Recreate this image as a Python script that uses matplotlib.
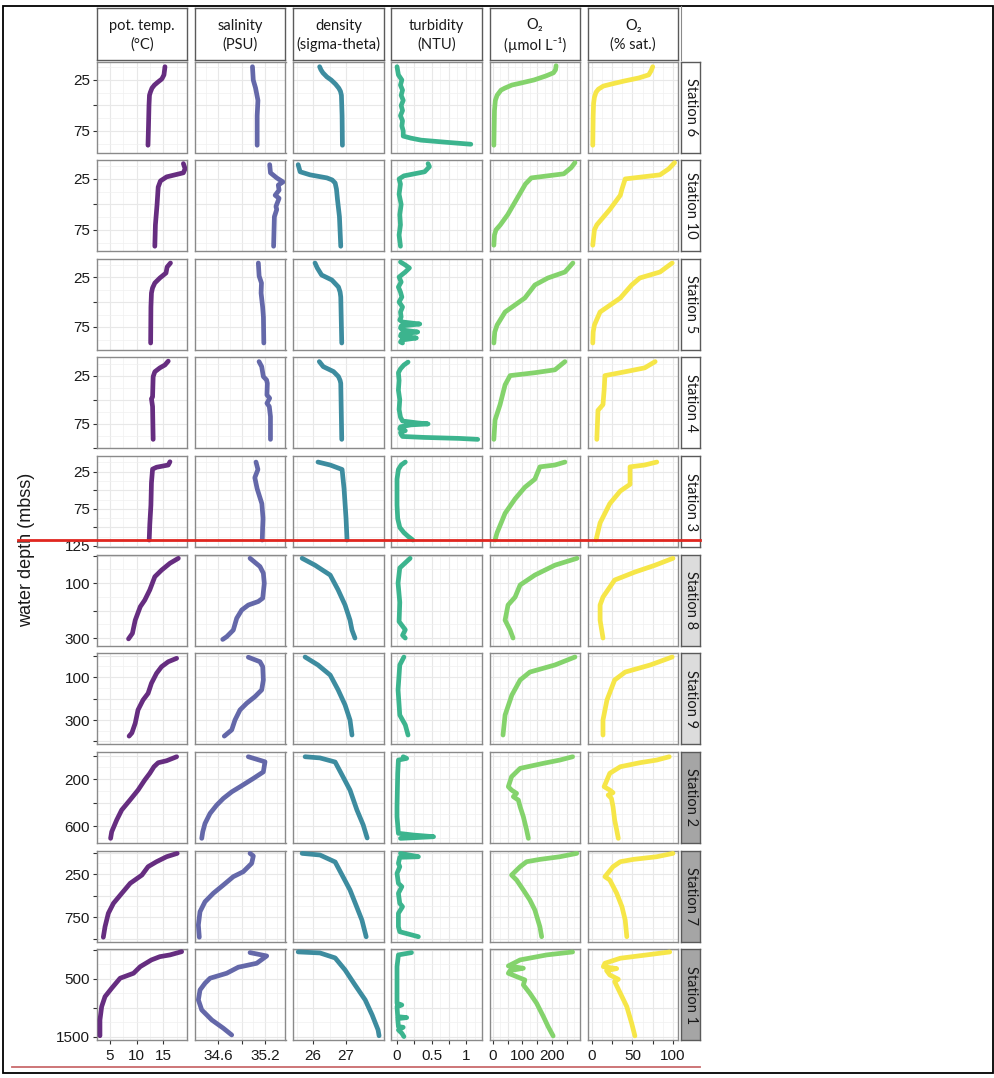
import matplotlib
matplotlib.use("Agg")
import matplotlib.pyplot as plt
from matplotlib.lines import Line2D
from matplotlib.patches import Rectangle

# ---- depth profiles (depth in mbss, value) ----
# Station 6
s6_temp_d = [12, 20, 24, 27, 30, 33, 37, 40, 50, 70, 89]
s6_temp = [15.28, 15.09, 14.7, 13.97, 13.3, 12.85, 12.55, 12.38, 12.29, 12.2, 12.1]
s6_sal_d = [12, 25, 33, 45, 60, 89]
s6_sal = [35.04, 35.05, 35.08, 35.11, 35.10, 35.10]
s6_dens_d = [12, 15, 18, 22, 25, 29, 33, 36, 40, 60, 89]
s6_dens = [26.2, 26.24, 26.3, 26.42, 26.55, 26.68, 26.78, 26.83, 26.86, 26.88, 26.89]
s6_turb_d = [12, 20, 25, 30, 35, 40, 45, 50, 55, 60, 65, 70, 75, 80, 82, 84, 86, 88]
s6_turb = [0.0, 0.02, 0.07, 0.05, 0.08, 0.06, 0.09, 0.06, 0.08, 0.05, 0.08, 0.07, 0.09, 0.09, 0.2, 0.35, 0.7, 1.07]
s6_o2_d = [11, 15, 18, 21, 25, 28, 30, 33, 35, 40, 45, 55, 89]
s6_o2 = [214, 212, 205, 180, 139, 95, 64, 40, 27, 14, 8, 5, 3]
s6_sat_d = [12, 16, 20, 23, 26, 29, 31, 34, 37, 42, 48, 60, 89]
s6_sat = [75, 73, 70, 58, 40, 24, 14, 8, 5, 3, 2, 1.5, 1]

# Station 10
s10_temp_d = [10, 15, 19, 21, 23, 27, 33, 50, 70, 91]
s10_temp = [18.72, 19.04, 18.72, 17.15, 15.58, 14.43, 14.01, 13.8, 13.49, 13.38]
s10_sal_d = [11, 19, 24, 28, 31, 36, 41, 44, 52, 55, 62, 91]
s10_sal = [35.26, 35.27, 35.35, 35.43, 35.37, 35.38, 35.33, 35.38, 35.34, 35.35, 35.32, 35.31]
s10_dens_d = [11, 18, 21, 24, 26, 29, 35, 45, 62, 91]
s10_dens = [25.55, 25.61, 25.91, 26.42, 26.58, 26.67, 26.71, 26.74, 26.8, 26.84]
s10_turb_d = [10, 13, 18, 22, 25, 30, 40, 50, 60, 70, 80, 91]
s10_turb = [0.45, 0.47, 0.40, 0.1, 0.03, 0.05, 0.03, 0.06, 0.04, 0.05, 0.03, 0.05]
s10_o2_d = [9, 14, 20, 24, 30, 40, 50, 60, 70, 75, 80, 90]
s10_o2 = [278, 265, 240, 130, 110, 90, 70, 50, 25, 10, 5, 3]
s10_sat_d = [9, 15, 21, 25, 35, 41, 55, 70, 75, 90]
s10_sat = [102, 95, 84, 41, 37, 35, 22, 6, 3, 1]

# Station 5
s5_temp_d = [11, 15, 21, 26, 31, 36, 41, 55, 91]
s5_temp = [16.31, 15.68, 15.47, 14.32, 13.38, 12.95, 12.75, 12.65, 12.6]
s5_sal_d = [11, 24, 31, 41, 55, 65, 91]
s5_sal = [35.115, 35.125, 35.155, 35.15, 35.17, 35.18, 35.185]
s5_dens_d = [11, 16, 23, 28, 35, 40, 45, 91]
s5_dens = [26.06, 26.13, 26.26, 26.57, 26.77, 26.82, 26.84, 26.87]
s5_turb_d = [10, 13, 16, 20, 25, 30, 35, 40, 45, 50, 55, 60, 65, 68, 70, 72, 74, 76, 78, 80, 82, 84, 86, 88, 90, 91]
s5_turb = [0.05, 0.12, 0.18, 0.12, 0.03, 0.06, 0.02, 0.05, 0.07, 0.03, 0.08, 0.05, 0.06, 0.04, 0.08, 0.33,
           0.06, 0.05, 0.08, 0.30, 0.06, 0.05, 0.28, 0.07, 0.05, 0.08]
s5_o2_d = [11, 20, 26, 33, 46, 60, 73, 80, 91]
s5_o2 = [271, 244, 186, 142, 108, 41, 14, 6, 3]
s5_sat_d = [11, 20, 26, 33, 46, 60, 73, 80, 91]
s5_sat = [99, 84, 59, 49, 35, 10, 3, 1.5, 1]

# Station 4
s4_temp_d = [10, 14, 17, 21, 26, 47, 49, 57, 91]
s4_temp = [15.89, 15.27, 14.32, 13.38, 13.07, 12.96, 12.75, 12.96, 13.07]
s4_sal_d = [10.5, 15.7, 26, 29.5, 33, 45, 48.4, 53.6, 57, 67.4, 91]
s4_sal = [35.124, 35.158, 35.179, 35.22, 35.23, 35.225, 35.26, 35.225, 35.255, 35.27, 35.27]
s4_dens_d = [10.5, 15.7, 20.8, 26, 30, 33, 91]
s4_dens = [26.19, 26.31, 26.62, 26.77, 26.82, 26.84, 26.87]
s4_turb_d = [11, 14, 18, 22, 30, 40, 50, 60, 68, 72, 74, 75, 76, 78, 80, 82, 84, 86, 88, 89, 90, 91]
s4_turb = [0.16, 0.1, 0.05, 0.02, 0.03, 0.02, 0.04, 0.03, 0.05, 0.08, 0.3, 0.45, 0.2, 0.05, 0.04, 0.12,
           0.05, 0.06, 0.08, 0.4, 0.9, 1.17]
s4_o2_d = [10.5, 19, 22, 25, 34.6, 55, 71, 91]
s4_o2 = [244, 210, 142, 58, 41, 24, 7, 3]
s4_sat_d = [10.5, 17, 21, 25, 40, 55, 61, 91]
s4_sat = [78, 65, 41, 16, 15, 13.6, 7.4, 6]

# Station 3
s3_temp_d = [11.6, 16, 19, 21.5, 40, 70, 96, 117]
s3_temp = [16.21, 15.89, 13.7, 12.96, 12.75, 12.65, 12.44, 12.33]
s3_sal_d = [12, 22, 33, 48, 68, 88, 100, 117]
s3_sal = [35.085, 35.11, 35.07, 35.10, 35.16, 35.175, 35.17, 35.165]
s3_dens_d = [12, 16, 22, 48, 88, 117]
s3_dens = [26.15, 26.52, 26.88, 26.94, 27.0, 27.03]
s3_turb_d = [12, 16, 22, 35, 48, 70, 88, 100, 107, 112, 117]
s3_turb = [0.12, 0.06, 0.02, 0.0, 0.0, 0.0, 0.01, 0.04, 0.1, 0.16, 0.23]
s3_o2_d = [12, 16, 18.5, 35, 46, 61.5, 81, 107, 117]
s3_o2 = [244, 210, 159, 142, 108, 75, 41, 14, 7]
s3_sat_d = [12, 16, 18.5, 42, 51, 68, 94, 117]
s3_sat = [80, 65, 47, 47, 35, 22, 10, 5]

# Station 8
s8_temp_d = [10, 28, 53, 77, 125, 162, 186, 235, 283, 303]
s8_temp = [17.78, 16.21, 14.64, 13.38, 12.44, 11.5, 10.66, 9.72, 9.19, 8.46]
s8_sal_d = [10, 40, 64, 101, 155, 167, 180, 198, 228, 271, 295, 305]
s8_sal = [35.009, 35.136, 35.179, 35.191, 35.171, 35.115, 34.987, 34.903, 34.839, 34.795, 34.711, 34.66]
s8_dens_d = [10, 35, 71, 125, 180, 235, 271, 300]
s8_dens = [25.67, 26.06, 26.52, 26.76, 26.97, 27.12, 27.18, 27.27]
s8_turb_d = [10, 45, 100, 170, 240, 270, 290, 300]
s8_turb = [0.19, 0.04, 0.015, 0.04, 0.03, 0.12, 0.08, 0.12]
s8_o2_d = [10, 35, 71, 107, 151, 180, 235, 271, 300]
s8_o2 = [285, 210, 142, 92, 75, 51, 41, 58, 68]
s8_sat_d = [10, 35, 60, 89, 151, 180, 235, 300]
s8_sat = [100, 78, 53, 28, 13.6, 10, 10, 13.6]

# Station 9
s9_temp_d = [13, 29, 52, 83, 129, 176, 207, 253, 315, 360, 375]
s9_temp = [17.46, 15.89, 14.64, 13.7, 12.75, 12.12, 11.18, 10.24, 9.72, 9.09, 8.57]
s9_sal_d = [8, 29, 52, 114, 160, 191, 222, 253, 300, 346, 375]
s9_sal = [34.987, 35.136, 35.171, 35.179, 35.158, 35.073, 34.967, 34.881, 34.817, 34.775, 34.68]
s9_dens_d = [7, 44, 91, 160, 230, 300, 370]
s9_dens = [25.76, 26.15, 26.52, 26.76, 26.97, 27.12, 27.18]
s9_turb_d = [7, 44, 160, 277, 323, 370]
s9_turb = [0.1, 0.04, 0.015, 0.04, 0.12, 0.16]
s9_o2_d = [7, 44, 77, 114, 184, 277, 370]
s9_o2 = [278, 210, 125, 92, 64, 41, 34]
s9_sat_d = [7, 44, 77, 114, 207, 300, 370]
s9_sat = [99, 72, 41, 28, 18.5, 13.6, 13.6]

# Station 2
s2_temp_d = [10, 44, 61, 95, 151, 208, 294, 379, 464, 549, 649, 705]
s2_temp = [17.46, 15.58, 14.01, 13.22, 12.44, 11.5, 10.24, 8.73, 7.18, 6.25, 5.32, 5.11]
s2_sal_d = [10, 53, 139, 195, 266, 309, 365, 422, 493, 578, 649, 705]
s2_sal = [34.987, 35.2, 35.179, 35.051, 34.881, 34.775, 34.668, 34.583, 34.498, 34.434, 34.405, 34.392]
s2_dens_d = [10, 20, 55, 166, 294, 464, 591, 702]
s2_dens = [25.76, 26.21, 26.67, 26.88, 27.12, 27.33, 27.52, 27.64]
s2_turb_d = [10, 24, 38, 151, 436, 521, 662, 677, 691, 705]
s2_turb = [0.09, 0.14, 0.02, 0.01, 0.0, 0.0, 0.02, 0.24, 0.53, 0.05]
s2_o2_d = [10, 38, 66, 109, 180, 265, 294, 322, 350, 379, 436, 521, 634, 705]
s2_o2 = [270, 227, 171, 92, 63, 52, 63, 80, 69, 86, 92, 103, 114, 120]
s2_sat_d = [10, 38, 61, 95, 151, 265, 294, 316, 336, 365, 436, 549, 634, 705]
s2_sat = [95.4, 80, 59, 35, 22, 15, 22, 26, 20, 24, 26, 28, 30.5, 32.5]

# Station 7
s7_temp_d = [10, 49, 107, 165, 262, 358, 474, 591, 707, 863, 985]
s7_temp = [17.57, 15.58, 13.7, 12.12, 10.97, 8.78, 7.21, 5.64, 4.69, 4.07, 3.75]
s7_sal_d = [10, 40, 126, 223, 281, 378, 474, 572, 688, 843, 985]
s7_sal = [35.009, 35.051, 35.03, 34.923, 34.795, 34.668, 34.54, 34.434, 34.37, 34.349, 34.361]
s7_dens_d = [10, 29, 110, 262, 436, 610, 785, 980]
s7_dens = [25.67, 26.21, 26.67, 26.88, 27.12, 27.30, 27.48, 27.61]
s7_turb_d = [10, 49, 56, 126, 165, 242, 358, 397, 474, 591, 630, 707, 863, 921, 979]
s7_turb = [0.05, 0.31, 0.04, 0.02, 0.04, 0.0, 0.02, 0.07, 0.02, 0.04, 0.08, 0.02, 0.02, 0.04, 0.31]
s7_o2_d = [10, 49, 80, 107, 165, 262, 320, 436, 552, 669, 863, 979]
s7_o2 = [284, 227, 159, 114, 92, 63, 80, 103, 125, 142, 159, 165]
s7_sat_d = [10, 49, 80, 107, 165, 281, 320, 474, 630, 785, 979]
s7_sat = [100, 80, 51, 35, 26, 16, 22, 30.5, 37, 41, 43]

# Station 1
s1_temp_d = [30, 86, 116, 172, 288, 402, 488, 660, 805, 978, 1207, 1480]
s1_temp = [18.4, 16.21, 14.32, 12.75, 10.66, 9.4, 6.89, 5.32, 4.07, 3.44, 3.12, 3.12]
s1_sal_d = [46, 104, 230, 298, 402, 488, 574, 690, 862, 1034, 1207, 1350, 1466]
s1_sal = [35.009, 35.222, 35.094, 34.859, 34.711, 34.498, 34.434, 34.37, 34.349, 34.392, 34.52, 34.668, 34.775]
s1_dens_d = [34, 52, 138, 345, 603, 862, 1121, 1380, 1480]
s1_dens = [25.55, 26.21, 26.67, 26.97, 27.27, 27.58, 27.79, 27.97, 28.0]
s1_turb_d = [46, 86, 288, 690, 920, 949, 978, 1150, 1167, 1184, 1322, 1334, 1380, 1437, 1494]
s1_turb = [0.21, 0.02, 0.0, 0.0, 0.0, 0.07, 0.0, 0.01, 0.14, 0.01, 0.02, 0.09, 0.02, 0.07, 0.1]
s1_o2_d = [35, 86, 172, 276, 316, 356, 402, 460, 517, 603, 747, 920, 1150, 1322, 1483]
s1_o2 = [270, 182, 92, 52, 103, 58, 52, 80, 108, 103, 125, 148, 171, 187, 204]
s1_sat_d = [35, 86, 143, 230, 288, 322, 356, 431, 506, 546, 747, 978, 1265, 1483]
s1_sat = [96, 67.5, 35, 16, 14, 30.5, 18, 22, 32.5, 28, 35, 43, 49, 53]

stations = ["Station 6", "Station 10", "Station 5", "Station 4", "Station 3",
            "Station 8", "Station 9", "Station 2", "Station 7", "Station 1"]
strip_fill = ["white"] * 5 + ["#dcdcdc"] * 2 + ["#a5a5a5"] * 3

headers = ["pot. temp.\n(°C)", "salinity\n(PSU)", "density\n(sigma-theta)",
           "turbidity\n(NTU)", "O₂\n(µmol L⁻¹)", "O₂\n(% sat.)"]
colors = ["#662d80", "#6468a9", "#3d8c9f", "#3cb48e", "#84d36c", "#f6e648"]

x_limits = [(2.57, 19.49), (34.306, 35.462), (25.4, 28.14), (-0.08, 1.232), (-10.8, 296), (-4.9, 106.8)]
x_breaks = [[5, 10, 15], [34.6, 34.9, 35.2], [26, 27], [0, 0.25, 0.5, 0.75, 1], [0, 50, 100, 150, 200, 250],
            [0, 25, 50, 75, 100]]
x_labels = [["5", "10", "15"], ["34.6", "", "35.2"], ["26", "27"], ["0", "", "0.5", "", "1"],
            ["0", "", "100", "", "200", ""], ["0", "", "50", "", "100"]]

# depth axes: (top, bottom) and break step; every other break is labelled
y_limits = [(6.9, 96.1), (6.6, 95.8), (6.8, 97.8), (6.2, 100.4), (4.0, 126.5),
            (-2.9, 328), (-9.8, 413.5), (-30, 745), (-21, 1037), (-10, 1559)]
y_steps = [25, 25, 25, 25, 25, 100, 100, 200, 250, 500]

profiles = [
    [(s6_temp, s6_temp_d), (s6_sal, s6_sal_d), (s6_dens, s6_dens_d), (s6_turb, s6_turb_d), (s6_o2, s6_o2_d), (s6_sat, s6_sat_d)],
    [(s10_temp, s10_temp_d), (s10_sal, s10_sal_d), (s10_dens, s10_dens_d), (s10_turb, s10_turb_d), (s10_o2, s10_o2_d), (s10_sat, s10_sat_d)],
    [(s5_temp, s5_temp_d), (s5_sal, s5_sal_d), (s5_dens, s5_dens_d), (s5_turb, s5_turb_d), (s5_o2, s5_o2_d), (s5_sat, s5_sat_d)],
    [(s4_temp, s4_temp_d), (s4_sal, s4_sal_d), (s4_dens, s4_dens_d), (s4_turb, s4_turb_d), (s4_o2, s4_o2_d), (s4_sat, s4_sat_d)],
    [(s3_temp, s3_temp_d), (s3_sal, s3_sal_d), (s3_dens, s3_dens_d), (s3_turb, s3_turb_d), (s3_o2, s3_o2_d), (s3_sat, s3_sat_d)],
    [(s8_temp, s8_temp_d), (s8_sal, s8_sal_d), (s8_dens, s8_dens_d), (s8_turb, s8_turb_d), (s8_o2, s8_o2_d), (s8_sat, s8_sat_d)],
    [(s9_temp, s9_temp_d), (s9_sal, s9_sal_d), (s9_dens, s9_dens_d), (s9_turb, s9_turb_d), (s9_o2, s9_o2_d), (s9_sat, s9_sat_d)],
    [(s2_temp, s2_temp_d), (s2_sal, s2_sal_d), (s2_dens, s2_dens_d), (s2_turb, s2_turb_d), (s2_o2, s2_o2_d), (s2_sat, s2_sat_d)],
    [(s7_temp, s7_temp_d), (s7_sal, s7_sal_d), (s7_dens, s7_dens_d), (s7_turb, s7_turb_d), (s7_o2, s7_o2_d), (s7_sat, s7_sat_d)],
    [(s1_temp, s1_temp_d), (s1_sal, s1_sal_d), (s1_dens, s1_dens_d), (s1_turb, s1_turb_d), (s1_o2, s1_o2_d), (s1_sat, s1_sat_d)],
]

W, H = 995, 1078
col_left = [97, 195, 293.2, 391.5, 489.8, 588]
panel_w = 90.5
row_top0, row_step, panel_h = 61.5, 98.65, 91
strip_x, strip_w = 681, 19.5

plt.rcParams["font.family"] = ["Liberation Sans", "DejaVu Sans"]
strip_font = ["Lato", "DejaVu Sans"]
fig = plt.figure(figsize=(W / 100, H / 100), dpi=100)


def px_axes(x, y, w, h):
    return fig.add_axes([x / W, 1 - (y + h) / H, w / W, h / H])


def minors(breaks, lo, hi):
    step = breaks[1] - breaks[0]
    mids = [b - step / 2 for b in breaks] + [breaks[-1] + step / 2]
    return [m for m in mids if lo <= m <= hi]


border = "#8a8a8a"
for r, st in enumerate(stations):
    top = row_top0 + r * row_step
    ytop, ybot = y_limits[r]
    step = y_steps[r]
    ybr = [k * step for k in range(int(ybot // step) + 1) if ytop <= k * step <= ybot]
    ylab = [str(int(b)) if (b // step) % 2 == 1 else "" for b in ybr]
    for c in range(6):
        ax = px_axes(col_left[c], top, panel_w, panel_h)
        vals, depth = profiles[r][c]
        ax.plot(vals, depth, color=colors[c], lw=3.4, solid_capstyle="round", solid_joinstyle="round", zorder=3)
        lo, hi = x_limits[c]
        ax.set_xlim(lo, hi)
        ax.set_ylim(ybot, ytop)
        ax.set_xticks(x_breaks[c])
        ax.set_xticks(minors(x_breaks[c], lo, hi), minor=True)
        ax.set_yticks(ybr)
        ax.set_yticks(minors(ybr, ytop, ybot) if len(ybr) > 1 else [], minor=True)
        ax.grid(which="major", color="#e8e8e8", lw=0.8)
        ax.grid(which="minor", color="#f0f0f0", lw=0.5)
        ax.set_axisbelow(True)
        for s in ax.spines.values():
            s.set_color(border)
            s.set_linewidth(1.0)
        ax.tick_params(which="minor", length=0)
        ax.tick_params(which="major", length=3, width=0.8, color="#333333", labelsize=11,
                       labelcolor="#1a1a1a", pad=2)
        if c == 0:
            ax.set_yticklabels(ylab)
        else:
            ax.tick_params(axis="y", left=False, labelleft=False)
        if r == len(stations) - 1:
            ax.set_xticklabels(x_labels[c])
            ax.tick_params(axis="x", pad=3)
        else:
            ax.tick_params(axis="x", bottom=False, labelbottom=False)

    # station strip on the right
    sax = px_axes(strip_x, top, strip_w, panel_h)
    sax.set_facecolor(strip_fill[r])
    sax.set_xticks([])
    sax.set_yticks([])
    for s in sax.spines.values():
        s.set_color("#5a5a5a")
        s.set_linewidth(1.0)
    sax.text(0.5, 0.5, st, rotation=270, ha="center", va="center", fontsize=10.5,
             family=strip_font, color="#1a1a1a", transform=sax.transAxes)

# variable headers
for c in range(6):
    hax = px_axes(col_left[c], 8, panel_w, 51.5)
    hax.set_xticks([])
    hax.set_yticks([])
    for s in hax.spines.values():
        s.set_color("#5a5a5a")
        s.set_linewidth(1.0)
    hax.text(0.5, 0.47, headers[c], ha="center", va="center", fontsize=10.5, family=strip_font,
             color="#1a1a1a", linespacing=1.35, transform=hax.transAxes)

fig.text(27 / W, 1 - 550 / H, "water depth (mbss)", rotation=90, ha="center", va="center",
         fontsize=13, color="#1a1a1a")

# frame and highlight lines on top of the figure
fig.add_artist(Rectangle((3 / W, 1 - 1073 / H), 990 / W, 1067 / H, transform=fig.transFigure,
                         fill=False, edgecolor="black", lw=1.3, zorder=10))
fig.add_artist(Line2D([681 / W, 681 / W], [1 - 6 / H, 1 - 60 / H], transform=fig.transFigure,
                      color="#8a8a8a", lw=0.8, zorder=10))
fig.add_artist(Line2D([18 / W, 700 / W], [1 - 540 / H, 1 - 540 / H], transform=fig.transFigure,
                      color="#e0261f", lw=2.0, zorder=11))
fig.add_artist(Line2D([12 / W, 700 / W], [1 - 1067 / H, 1 - 1067 / H], transform=fig.transFigure,
                      color="#c96a6c", lw=1.3, zorder=11))

fig.savefig("out.png", dpi=100, facecolor="white")
